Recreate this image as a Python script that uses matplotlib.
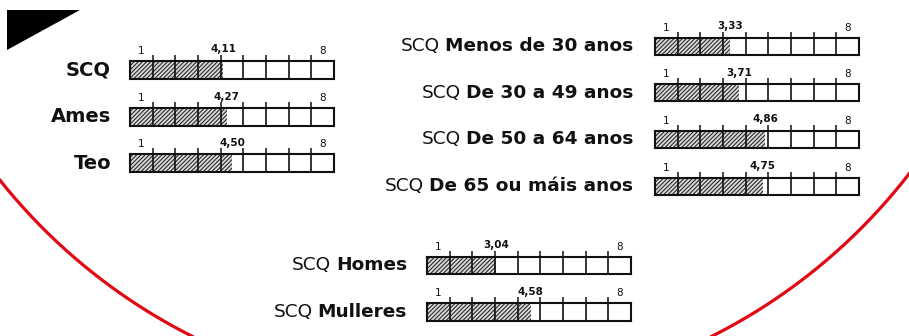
import matplotlib
matplotlib.use("Agg")
import matplotlib.pyplot as plt
import numpy as np
from matplotlib.patches import Polygon

plt.rcParams['font.family'] = ['DejaVu Sans']
plt.rcParams['hatch.color'] = '#2a2a2a'
plt.rcParams['hatch.linewidth'] = 0.8

# ---- data ----
group_main_labels = ["SCQ", "Ames", "Teo"]
group_main_values = [4.11, 4.27, 4.50]

group_age_labels = ["Menos de 30 anos", "De 30 a 49 anos", "De 50 a 64 anos", "De 65 ou máis anos"]
group_age_values = [3.33, 3.71, 4.86, 4.75]

group_sex_labels = ["Homes", "Mulleres"]
group_sex_values = [3.04, 4.58]

scale_min_label = "1"
scale_max_label = "8"
n_cells = 9

W, H = 909, 336
fig = plt.figure(figsize=(W / 100, H / 100), dpi=100)
bg = fig.add_axes([0, 0, 1, 1])
bg.set_xlim(0, W)
bg.set_ylim(H, 0)
bg.axis('off')

# decorative elements
bg.add_patch(Polygon([[7, 10], [80, 10], [7, 50]], closed=True, color='black', lw=0))
th = np.linspace(0, np.pi, 600)
cx, cy, R = 452, -180, 578
bg.plot(cx + R * np.cos(th), cy + R * np.sin(th), color='#e30613', lw=2.3,
        solid_capstyle='butt')

TXT = '#111111'


def draw_bar(x0, ytop, w, h, value):
    ax = fig.add_axes([x0 / W, 1 - (ytop + h) / H, w / W, h / H])
    ax.set_xlim(0, n_cells)
    ax.set_ylim(0, 1)
    ax.barh(0.5, value, height=1, left=0, color='#dadada', hatch='////////',
            edgecolor='#2a2a2a', linewidth=0)
    for k in range(1, n_cells):
        ax.axvline(k, color=TXT, lw=1.2)
    for s in ax.spines.values():
        s.set_linewidth(1.5)
        s.set_color(TXT)
    ax.xaxis.tick_top()
    ax.set_xticks(range(1, n_cells))
    ax.set_xticklabels([])
    ax.tick_params(axis='x', direction='out', length=4.5, width=1.1, color=TXT)
    ax.set_yticks([])
    ax.text(0.5, 1.28, scale_min_label, ha='center', va='bottom', fontsize=7.5, color=TXT,
            transform=ax.get_xaxis_transform())
    ax.text(8.5, 1.28, scale_max_label, ha='center', va='bottom', fontsize=7.5, color=TXT,
            transform=ax.get_xaxis_transform())
    ax.text(value, 1.36, f"{value:.2f}".replace('.', ','), ha='center', va='bottom',
            fontsize=7.5, fontweight='bold', color=TXT, transform=ax.get_xaxis_transform())
    return ax


renderer = fig.canvas.get_renderer()


def mixed_label(xr, yc, bold_text, size):
    t = bg.text(xr, yc, bold_text, ha='right', va='center', fontsize=size,
                fontweight='bold', color=TXT)
    bb = t.get_window_extent(renderer=renderer)
    xdata = bg.transData.inverted().transform((bb.x0, 0))[0]
    bg.text(xdata - 5, yc, "SCQ", ha='right', va='center', fontsize=size, color=TXT)


# left group
left_tops = [60.7, 108, 154.5]
for lab, val, yt in zip(group_main_labels, group_main_values, left_tops):
    draw_bar(130, yt, 204, 18, val)
    bg.text(111, yt + 9, lab, ha='right', va='center', fontsize=14, fontweight='bold', color=TXT)

# age group
age_tops = [37.7, 84, 130.7, 177.7]
for lab, val, yt in zip(group_age_labels, group_age_values, age_tops):
    draw_bar(655, yt, 204, 17.5, val)
    mixed_label(633, yt + 8.5, lab, 13.3)

# sex group
sex_tops = [256.5, 303.3]
for lab, val, yt in zip(group_sex_labels, group_sex_values, sex_tops):
    draw_bar(427, yt, 204, 17.5, val)
    mixed_label(407, yt + 8.5, lab, 13.3)

fig.savefig('out.png', dpi=100, facecolor='white')
